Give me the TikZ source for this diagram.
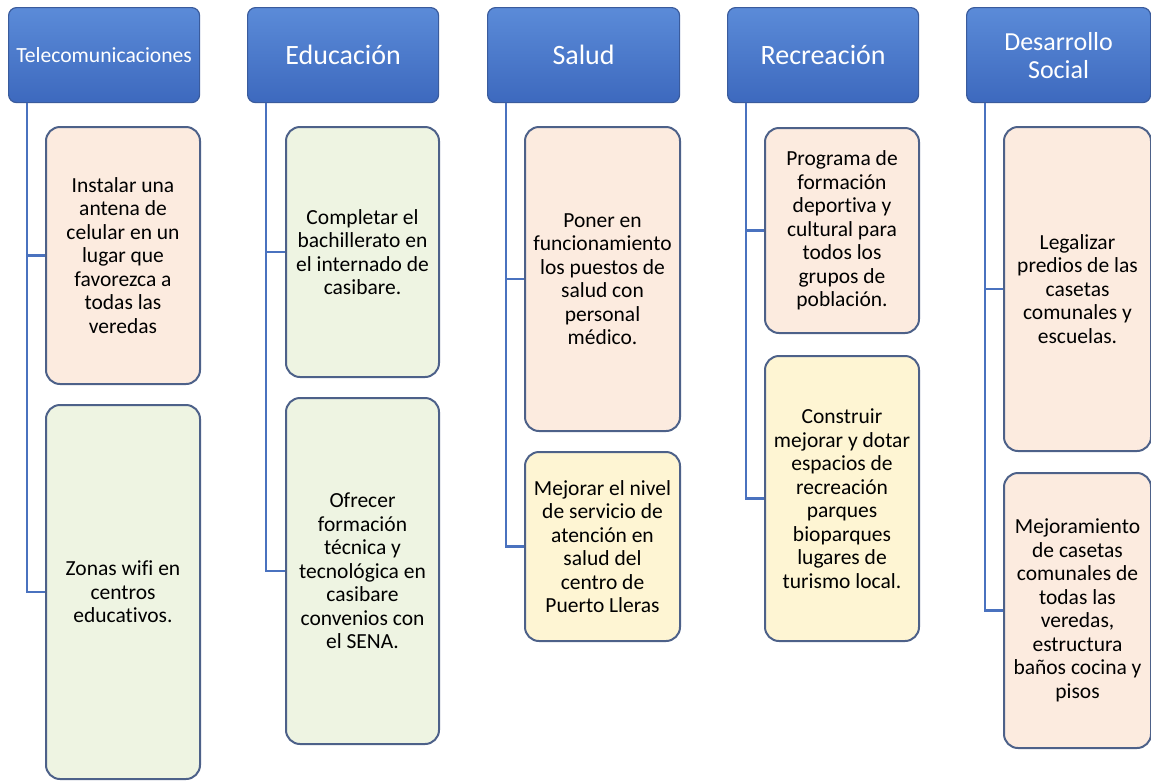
\documentclass[tikz,border=0pt]{standalone}
\usepackage{fontspec}
\setmainfont{Carlito}[Ligatures=NoCommon]
\definecolor{hdrtop}{HTML}{5B8BD8}
\definecolor{hdrbot}{HTML}{3D69BE}
\definecolor{hdrline}{HTML}{3A5B9C}
\definecolor{peach}{HTML}{FCEBDF}
\definecolor{green}{HTML}{EEF4E2}
\definecolor{yellow}{HTML}{FEF5D3}
\definecolor{boxline}{HTML}{4D6189}
\definecolor{conn}{HTML}{4A72BF}
\tikzset{
  hdr/.style={draw=hdrline, line width=1.2pt, rounded corners=8pt, top color=hdrtop, bottom color=hdrbot,
    text=white, anchor=north west, inner sep=0pt, align=center,
    font=\fontsize{28}{32}\selectfont},
  kid/.style={draw=boxline, line width=2pt, rounded corners=14pt, anchor=north west, inner sep=0pt,
    align=center, font=\fontsize{21.5}{23.5}\selectfont},
  conn/.style={draw=conn, line width=2.6pt}
}
\begin{document}
\begin{tikzpicture}[x=1pt,y=-1pt]
\useasboundingbox (0,0) rectangle (1151,780);
% headers
\node[hdr, minimum width=191pt, minimum height=95pt, font=\fontsize{21.6}{26}\selectfont] (h1) at (8,7) {Telecomunicaciones};
\node[hdr, minimum width=191pt, minimum height=95pt] (h2) at (247,7) {Educación};
\node[hdr, minimum width=192pt, minimum height=95pt] (h3) at (487,7) {Salud};
\node[hdr, minimum width=191pt, minimum height=95pt] (h4) at (727,7) {Recreación};
\node[hdr, minimum width=184pt, minimum height=95pt, font=\fontsize{26}{28}\selectfont] (h5) at (966,7) {Desarrollo\\Social};
% children
\node[kid, fill=peach, minimum width=154pt, minimum height=257pt] (c11) at (45,126)
  {Instalar una\\antena de\\celular en un\\lugar que\\favorezca a\\todas las\\veredas};
\node[kid, fill=green, minimum width=154pt, minimum height=374pt] (c12) at (45,404)
  {Zonas wifi en\\centros\\educativos.};
\node[kid, fill=green, minimum width=153pt, minimum height=250pt] (c21) at (285,126)
  {Completar el\\bachillerato en\\el internado de\\casibare.};
\node[kid, fill=green, minimum width=153pt, minimum height=346pt] (c22) at (285,397)
  {Ofrecer\\formación\\técnica y\\tecnológica en\\casibare\\convenios con\\el SENA.};
\node[kid, fill=peach, minimum width=155pt, minimum height=304pt] (c31) at (524,126)
  {Poner en\\funcionamiento\\los puestos de\\salud con\\personal\\médico.};
\node[kid, fill=yellow, minimum width=155pt, minimum height=189pt] (c32) at (524,451)
  {Mejorar el nivel\\de servicio de\\atención en\\salud del\\centro de\\Puerto Lleras};
\node[kid, fill=peach, minimum width=154pt, minimum height=205pt] (c41) at (764,127)
  {Programa de\\formación\\deportiva y\\cultural para\\todos los\\grupos de\\población.};
\node[kid, fill=yellow, minimum width=154pt, minimum height=285pt] (c42) at (764,355)
  {Construir\\mejorar y dotar\\espacios de\\recreación\\parques\\bioparques\\lugares de\\turismo local.};
\node[kid, fill=peach, minimum width=147pt, minimum height=324pt] (c51) at (1003,126)
  {Legalizar\\predios de las\\casetas\\comunales y\\escuelas.};
\node[kid, fill=peach, minimum width=147pt, minimum height=275pt] (c52) at (1003,472)
  {Mejoramiento\\de casetas\\comunales de\\todas las\\veredas,\\estructura\\baños cocina y\\pisos};
% connectors
\foreach \h/\a/\b in {h1/c11/c12, h2/c21/c22, h3/c31/c32, h4/c41/c42, h5/c51/c52}{
  \draw[conn] ([xshift=19pt]\h.south west) |- (\a.west);
  \draw[conn] ([xshift=19pt]\h.south west) |- (\b.west);
}
\end{tikzpicture}
\end{document}
